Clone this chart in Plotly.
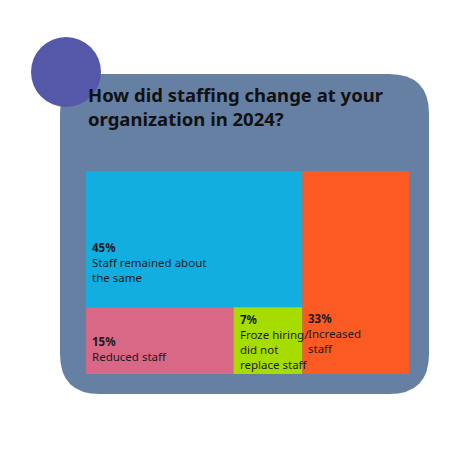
import plotly.graph_objects as go

labels = ["Staff remained about<br>the same", "Reduced staff", "Froze hiring/<br>did not<br>replace staff", "Increased<br>staff"]
values = [45, 15, 7, 33]
colors = ["#12aee0", "#d96886", "#a6dc00", "#fb5a22"]

W, H = 450, 450
L, R, T, B = 78, 401, 163, 366
def px(x): return (x - L) / (R - L)
def py(y): return (B - y) / (B - T)

fig = go.Figure()
shapes = []
# background rounded rect
x0, x1, y0, y1, r = 52, 421, 66, 386, 40
pts = (f"M {px(x0+r)},{py(y0)} L {px(x1-r)},{py(y0)} Q {px(x1)},{py(y0)} {px(x1)},{py(y0+r)} "
       f"L {px(x1)},{py(y1-r)} Q {px(x1)},{py(y1)} {px(x1-r)},{py(y1)} L {px(x0+r)},{py(y1)} "
       f"Q {px(x0)},{py(y1)} {px(x0)},{py(y1-r)} L {px(x0)},{py(y0+r)} Q {px(x0)},{py(y0)} {px(x0+r)},{py(y0)} Z")
shapes.append(dict(type="path", xref="paper", yref="paper", path=pts, fillcolor="#6680a4", line_width=0, layer="below"))
shapes.append(dict(type="circle", xref="paper", yref="paper", x0=px(23), x1=px(93), y0=py(99), y1=py(29),
                   fillcolor="#5558a8", line_width=0, layer="below"))

total = sum(values)
left_w = (total - values[3]) / total * 100
top_h = values[0] / (total - values[3]) * 100
bot_total = values[1] + values[2]
rects = [
    (0, left_w, 100 - top_h, 100),
    (0, left_w * values[1] / bot_total, 0, 100 - top_h),
    (left_w * values[1] / bot_total, left_w, 0, 100 - top_h),
    (left_w, 100, 0, 100),
]
yshift = [20, 8, 0, 16]
for (a, b, c, d), col in zip(rects, colors):
    shapes.append(dict(type="rect", xref="x", yref="y", x0=a, x1=b, y0=c, y1=d, fillcolor=col, line_width=0))
anns = []
for (a, b, c, d), lab, v, ys in zip(rects, labels, values, yshift):
    anns.append(dict(x=a, y=c, xref="x", yref="y", xanchor="left", yanchor="bottom", xshift=4, yshift=ys,
                     text=f"<b>{v}%</b><br>{lab}", showarrow=False, align="left",
                     font=dict(family="Noto Sans", size=11.5, color="#1a1a1a")))
anns.append(dict(x=0, y=py(98), xref="paper", yref="paper", xanchor="left", yanchor="middle", showarrow=False,
                 align="left", text="<b>How did staffing change at your<br>organization in 2024?</b>",
                 font=dict(family="Noto Sans", size=18.5, color="#111111")))
fig.update_layout(width=W, height=H, margin=dict(l=L, r=W - R, t=T, b=H - B),
                  paper_bgcolor="white", plot_bgcolor="rgba(0,0,0,0)", shapes=shapes, annotations=anns,
                  xaxis=dict(range=[0, 100], visible=False, fixedrange=True),
                  yaxis=dict(range=[0, 100], visible=False, fixedrange=True), showlegend=False)
fig.write_html("out.html")
